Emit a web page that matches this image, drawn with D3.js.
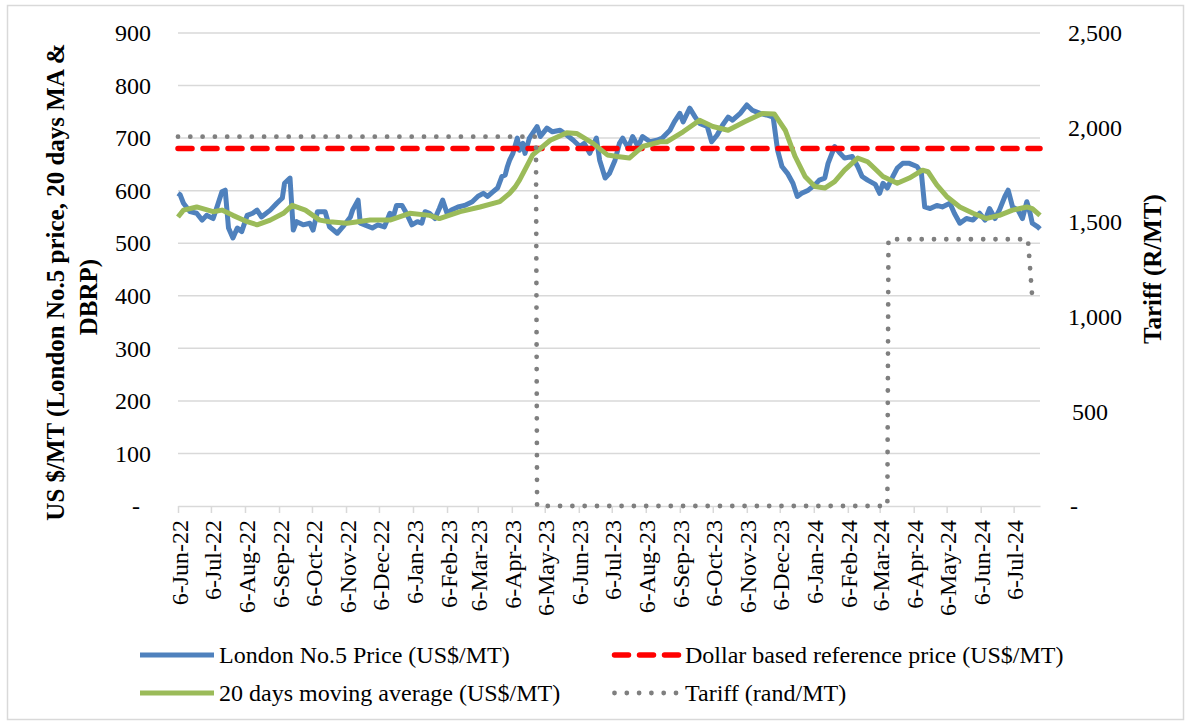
<!DOCTYPE html>
<html>
<head>
<meta charset="utf-8">
<script src="https://cdnjs.cloudflare.com/ajax/libs/d3/7.8.5/d3.min.js"></script>
<style>
    body { margin: 0; background: #fff; }
    text { font-family: "Liberation Serif", "Times New Roman", serif; fill: #000; }
</style>
</head>
<body>
<script>
// London No.5 price, US$/MT
var londonPrice = [
    ["2022-06-06", 595], ["2022-06-08", 592], ["2022-06-11", 576], ["2022-06-17", 560], ["2022-06-23", 557],
    ["2022-06-28", 544], ["2022-07-02", 553], ["2022-07-08", 547], ["2022-07-12", 572], ["2022-07-16", 598],
    ["2022-07-19", 601], ["2022-07-22", 529], ["2022-07-26", 510], ["2022-07-30", 529], ["2022-08-03", 522],
    ["2022-08-08", 553], ["2022-08-13", 557], ["2022-08-17", 563], ["2022-08-21", 550], ["2022-08-29", 563],
    ["2022-09-04", 576], ["2022-09-09", 586], ["2022-09-11", 614], ["2022-09-16", 624], ["2022-09-19", 525],
    ["2022-09-22", 541], ["2022-09-28", 535], ["2022-10-04", 538], ["2022-10-07", 525], ["2022-10-11", 560],
    ["2022-10-18", 560], ["2022-10-22", 531], ["2022-10-29", 519], ["2022-11-03", 531], ["2022-11-10", 550],
    ["2022-11-12", 563], ["2022-11-17", 582], ["2022-11-19", 538], ["2022-11-23", 535], ["2022-11-30", 529],
    ["2022-12-05", 535], ["2022-12-11", 531], ["2022-12-16", 557], ["2022-12-19", 550], ["2022-12-22", 572],
    ["2022-12-27", 572], ["2022-12-31", 557], ["2023-01-05", 535], ["2023-01-10", 541], ["2023-01-14", 538],
    ["2023-01-17", 560], ["2023-01-21", 557], ["2023-01-26", 547], ["2023-01-30", 566], ["2023-02-02", 582],
    ["2023-02-06", 557], ["2023-02-10", 563], ["2023-02-16", 569], ["2023-02-22", 572], ["2023-03-01", 579],
    ["2023-03-06", 589], ["2023-03-11", 595], ["2023-03-15", 589], ["2023-03-20", 598], ["2023-03-24", 605],
    ["2023-03-28", 627], ["2023-03-31", 630], ["2023-04-02", 646], ["2023-04-04", 658], ["2023-04-07", 671],
    ["2023-04-11", 700], ["2023-04-13", 677], ["2023-04-16", 690], ["2023-04-18", 671], ["2023-04-22", 700],
    ["2023-04-29", 722], ["2023-05-02", 703], ["2023-05-08", 719], ["2023-05-13", 712], ["2023-05-20", 715],
    ["2023-05-26", 706], ["2023-06-01", 696], ["2023-06-07", 684], ["2023-06-11", 690], ["2023-06-16", 671],
    ["2023-06-22", 700], ["2023-06-25", 658], ["2023-06-30", 624], ["2023-07-04", 633], ["2023-07-09", 658],
    ["2023-07-13", 690], ["2023-07-16", 700], ["2023-07-21", 681], ["2023-07-25", 703], ["2023-07-30", 684],
    ["2023-08-03", 703], ["2023-08-10", 693], ["2023-08-16", 696], ["2023-08-21", 700], ["2023-08-28", 715],
    ["2023-09-01", 731], ["2023-09-06", 747], ["2023-09-09", 731], ["2023-09-15", 757], ["2023-09-20", 740],
    ["2023-09-24", 728], ["2023-10-01", 722], ["2023-10-05", 693], ["2023-10-10", 706], ["2023-10-15", 725],
    ["2023-10-20", 740], ["2023-10-24", 734], ["2023-10-31", 747], ["2023-11-06", 763], ["2023-11-11", 753],
    ["2023-11-18", 747], ["2023-11-24", 744], ["2023-11-30", 740], ["2023-12-04", 677], ["2023-12-08", 646],
    ["2023-12-13", 633], ["2023-12-18", 614], ["2023-12-22", 589], ["2023-12-26", 595], ["2024-01-01", 601],
    ["2024-01-07", 611], ["2024-01-11", 620], ["2024-01-16", 624], ["2024-01-19", 652], ["2024-01-22", 668],
    ["2024-01-25", 684], ["2024-01-30", 671], ["2024-02-03", 662], ["2024-02-10", 665], ["2024-02-15", 646],
    ["2024-02-19", 627], ["2024-02-24", 620], ["2024-03-02", 612], ["2024-03-06", 595], ["2024-03-09", 614],
    ["2024-03-13", 605], ["2024-03-18", 627], ["2024-03-22", 643], ["2024-03-27", 652], ["2024-04-02", 652],
    ["2024-04-09", 646], ["2024-04-13", 633], ["2024-04-16", 569], ["2024-04-21", 566], ["2024-04-27", 572],
    ["2024-05-02", 569], ["2024-05-09", 576], ["2024-05-13", 557], ["2024-05-18", 538], ["2024-05-24", 547],
    ["2024-05-30", 544], ["2024-06-05", 557], ["2024-06-10", 544], ["2024-06-14", 566], ["2024-06-19", 547],
    ["2024-06-23", 563], ["2024-06-28", 589], ["2024-07-01", 601], ["2024-07-05", 569], ["2024-07-10", 563],
    ["2024-07-14", 547], ["2024-07-18", 579], ["2024-07-21", 557], ["2024-07-23", 538], ["2024-07-28", 531],
    ["2024-07-30", 527]
];

// 20 days moving average, US$/MT
var movingAverage = [
    ["2022-06-06", 550], ["2022-06-11", 563], ["2022-06-23", 569], ["2022-07-08", 560], ["2022-07-16", 563],
    ["2022-07-26", 553], ["2022-08-08", 541], ["2022-08-17", 535], ["2022-08-29", 544], ["2022-09-10", 557],
    ["2022-09-18", 572], ["2022-09-30", 563], ["2022-10-13", 544], ["2022-10-22", 541], ["2022-11-07", 538],
    ["2022-11-28", 544], ["2022-12-16", 544], ["2023-01-03", 557], ["2023-01-21", 553], ["2023-01-30", 547],
    ["2023-02-18", 560], ["2023-03-08", 569], ["2023-03-26", 579], ["2023-04-04", 595], ["2023-04-09", 607],
    ["2023-04-13", 620], ["2023-04-18", 640], ["2023-04-25", 668], ["2023-05-11", 696], ["2023-05-26", 710],
    ["2023-06-04", 709], ["2023-06-19", 690], ["2023-07-02", 668], ["2023-07-11", 665], ["2023-07-22", 662],
    ["2023-08-03", 684], ["2023-08-19", 693], ["2023-08-25", 693], ["2023-09-09", 712], ["2023-09-24", 734],
    ["2023-10-06", 722], ["2023-10-20", 715], ["2023-11-04", 731], ["2023-11-20", 747], ["2023-12-01", 746],
    ["2023-12-11", 715], ["2023-12-20", 665], ["2023-12-29", 627], ["2024-01-07", 608], ["2024-01-16", 605],
    ["2024-01-25", 617], ["2024-02-03", 639], ["2024-02-15", 662], ["2024-02-24", 655], ["2024-03-01", 643],
    ["2024-03-09", 627], ["2024-03-22", 614], ["2024-04-02", 624], ["2024-04-14", 639], ["2024-04-19", 636],
    ["2024-04-27", 611], ["2024-05-06", 589], ["2024-05-18", 569], ["2024-05-30", 557], ["2024-06-11", 547],
    ["2024-06-23", 553], ["2024-07-05", 563], ["2024-07-18", 569], ["2024-07-23", 566], ["2024-07-30", 553]
];

// dollar based reference price, US$/MT
var referencePrice = [["2022-06-06", 680], ["2024-07-30", 680]];

// tariff, rand/MT (right axis)
var tariff = [
    ["2022-06-06", 1952], ["2023-04-28", 1952], ["2023-04-29", 0], ["2024-03-13", 0],
    ["2024-03-14", 1410], ["2024-07-19", 1410], ["2024-07-23", 1098]
];

var monthTicks = ["2022-06-06", "2022-07-06", "2022-08-06", "2022-09-06", "2022-10-06", "2022-11-06",
    "2022-12-06", "2023-01-06", "2023-02-06", "2023-03-06", "2023-04-06", "2023-05-06", "2023-06-06",
    "2023-07-06", "2023-08-06", "2023-09-06", "2023-10-06", "2023-11-06", "2023-12-06", "2024-01-06",
    "2024-02-06", "2024-03-06", "2024-04-06", "2024-05-06", "2024-06-06", "2024-07-06"];
var leftTicks = [0, 100, 200, 300, 400, 500, 600, 700, 800, 900];
var rightTicks = [0, 500, 1000, 1500, 2000, 2500];

var seriesNames = ["London No.5 Price (US$/MT)", "Dollar based reference price (US$/MT)",
    "20 days moving average (US$/MT)", "Tariff (rand/MT)"];

var width = 1191;
var height = 725;

var svg = d3.select("body")
        .append("svg")
        .attr("width", width)
        .attr("height", height);

var parseDate = d3.timeParse("%Y-%m-%d");
var formatTick = d3.timeFormat("%-d-%b-%y");

var x = d3.scaleTime()
        .domain([parseDate("2022-06-06"), parseDate("2024-07-30")])
        .range([178, 1040]),
        yLeft = d3.scaleLinear().domain([0, 900]).range([506, 33]),
        yRight = d3.scaleLinear().domain([0, 2500]).range([506, 33]);

svg.append("rect")
        .attr("x", 7.5).attr("y", 5.5)
        .attr("width", 1176).attr("height", 714)
        .attr("fill", "none")
        .attr("stroke", "#d9d9d9")
        .attr("stroke-width", 1.5);

// gridlines
svg.append("g")
        .selectAll("line")
        .data(leftTicks.slice(1))
        .enter().append("line")
        .attr("x1", x.range()[0])
        .attr("x2", x.range()[1])
        .attr("y1", function (d) { return yLeft(d); })
        .attr("y2", function (d) { return yLeft(d); })
        .attr("stroke", "#d9d9d9")
        .attr("stroke-width", 1.5);

var xAxis = svg.append("g")
        .attr("transform", "translate(0," + yLeft(0) + ")")
        .call(d3.axisBottom(x)
                .tickValues(monthTicks.map(parseDate))
                .tickFormat(formatTick)
                .tickSizeInner(7)
                .tickSizeOuter(0));
xAxis.select(".domain").attr("stroke", "#d9d9d9").attr("stroke-width", 1.5);
xAxis.selectAll(".tick line").attr("stroke", "#d9d9d9").attr("stroke-width", 1.5);
xAxis.selectAll("text")
        .attr("font-size", 24)
        .attr("font-family", "Liberation Serif")
        .attr("text-anchor", "end")
        .attr("x", -14)
        .attr("y", 0)
        .attr("dy", "0.38em")
        .attr("transform", "rotate(-90)");

var leftAxis = svg.append("g")
        .attr("transform", "translate(" + x.range()[0] + ",0)")
        .call(d3.axisLeft(yLeft)
                .tickValues(leftTicks)
                .tickSize(0)
                .tickPadding(27)
                .tickFormat(function (d) { return d === 0 ? "-" : d; }));
leftAxis.select(".domain").remove();
leftAxis.selectAll("text")
        .attr("font-size", 24)
        .attr("font-family", "Liberation Serif")
        .attr("dx", function (d) { return d === 0 ? -11 : 0; });

var rightAxis = svg.append("g")
        .attr("transform", "translate(" + x.range()[1] + ",0)")
        .call(d3.axisRight(yRight)
                .tickValues(rightTicks)
                .tickSize(0)
                .tickPadding(28)
                .tickFormat(function (d) { return d === 0 ? "-" : d3.format(",")(d); }));
rightAxis.select(".domain").remove();
rightAxis.selectAll("text")
        .attr("font-size", 24)
        .attr("font-family", "Liberation Serif")
        .attr("dx", function (d) { return d === 500 ? 4 : (d === 0 ? 2 : 0); });

// axis titles
svg.append("text")
        .attr("transform", "translate(64,282) rotate(-90)")
        .attr("text-anchor", "middle")
        .attr("font-size", 25)
        .attr("font-weight", "bold")
        .text("US $/MT (London No.5 price, 20 days MA &");
svg.append("text")
        .attr("transform", "translate(97,297) rotate(-90)")
        .attr("text-anchor", "middle")
        .attr("font-size", 25)
        .attr("font-weight", "bold")
        .text("DBRP)");

svg.append("text")
        .attr("transform", "translate(1161,269) rotate(-90)")
        .attr("text-anchor", "middle")
        .attr("font-size", 25)
        .attr("font-weight", "bold")
        .text("Tariff (R/MT)");

var leftLine = d3.line()
        .x(function (d) { return x(parseDate(d[0])); })
        .y(function (d) { return yLeft(d[1]); });
var rightLine = d3.line()
        .x(function (d) { return x(parseDate(d[0])); })
        .y(function (d) { return yRight(d[1]); });

var styles = [
    {color: "#4f81bd", dash: null, width: 5},
    {color: "#ff0000", dash: "14,11", width: 5.5},
    {color: "#9bbb59", dash: null, width: 5},
    {color: "#7f7f7f", dash: "0,12.3", width: 4.8}
];

[londonPrice, referencePrice, movingAverage].forEach(function (series, i) {
    svg.append("path")
            .attr("d", leftLine(series))
            .attr("fill", "none")
            .attr("stroke", styles[i].color)
            .attr("stroke-width", styles[i].width)
            .attr("stroke-linejoin", "round")
            .attr("stroke-linecap", styles[i].dash ? "round" : "butt")
            .attr("stroke-dasharray", styles[i].dash);
});

svg.append("path")
        .attr("d", rightLine(tariff))
        .attr("fill", "none")
        .attr("stroke", styles[3].color)
        .attr("stroke-width", styles[3].width)
        .attr("stroke-linecap", "round")
        .attr("stroke-dasharray", styles[3].dash);

// legend, two rows of two
var legendPos = [[140, 655], [612, 655], [140, 693], [612, 693]];
var legendWidth = [74, 68, 74, 68];

var legend = svg.append("g")
        .selectAll("g")
        .data(seriesNames)
        .enter().append("g")
        .attr("transform", function (d, i) { return "translate(" + legendPos[i][0] + "," + legendPos[i][1] + ")"; });

legend.append("line")
        .attr("x1", function (d, i) { return styles[i].dash ? 2.5 : 0; })
        .attr("x2", function (d, i) { return legendWidth[i]; })
        .attr("y1", 0).attr("y2", 0)
        .attr("stroke", function (d, i) { return styles[i].color; })
        .attr("stroke-width", function (d, i) { return styles[i].width; })
        .attr("stroke-linecap", function (d, i) { return styles[i].dash ? "round" : "butt"; })
        .attr("stroke-dasharray", function (d, i) { return styles[i].dash; });

legend.append("text")
        .attr("x", function (d, i) { return legendWidth[i] + 5; })
        .attr("dy", "0.35em")
        .attr("font-size", 24)
        .text(function (d) { return d; });
</script>
</body>
</html>
